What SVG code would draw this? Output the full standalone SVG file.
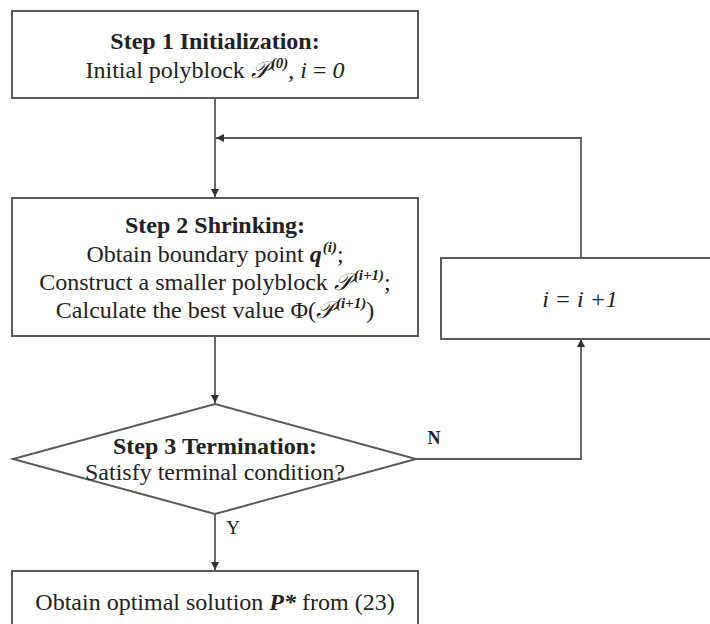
<svg xmlns="http://www.w3.org/2000/svg" width="710" height="624" viewBox="0 0 710 624">
<defs>
<style>
.box{fill:#fff;stroke:#5a5a5a;stroke-width:2}
.ln{fill:none;stroke:#5a5a5a;stroke-width:1.8}
.t{font-family:"Liberation Serif","Times New Roman",serif;font-size:24px;fill:#222;text-anchor:middle}
.b{font-weight:bold}
.i{font-style:italic}
.sup{font-size:15px;font-style:italic;font-weight:bold}
</style>
<marker id="ah" viewBox="0 0 10 10" refX="10" refY="5" markerWidth="8" markerHeight="8" orient="auto" markerUnits="userSpaceOnUse">
<path d="M0,0 L10,5 L0,10 z" fill="#333"/>
</marker>
</defs>
<rect width="710" height="624" fill="#fff"/>
<g id="connectors">
<line class="ln" x1="215" y1="98" x2="215" y2="197" marker-end="url(#ah)"/>
<polyline class="ln" points="581,258 581,138 216,138" marker-end="url(#ah)"/>
<line class="ln" x1="215" y1="336" x2="215" y2="403" marker-end="url(#ah)"/>
<polyline class="ln" points="416,459 581,459 581,339" marker-end="url(#ah)"/>
<line class="ln" x1="215" y1="514" x2="215" y2="570" marker-end="url(#ah)"/>
<text class="t b" x="434" y="444" style="font-size:18px">N</text>
<text class="t" x="233" y="534" style="font-size:19px">Y</text>
</g>
<g id="step1">
<rect class="box" x="12" y="11" width="406" height="87"/>
<text class="t b" x="215" y="49">Step 1 Initialization:</text>
<text class="t" x="215" y="78">Initial polyblock <tspan class="i">𝒫</tspan><tspan class="sup" dx="3" dy="-10">(0)</tspan><tspan dy="10">, </tspan><tspan class="i">i</tspan> = <tspan class="i">0</tspan></text>
</g>
<g id="step2">
<rect class="box" x="12" y="198" width="406" height="138"/>
<text class="t b" x="215" y="233">Step 2 Shrinking:</text>
<text class="t" x="215" y="262">Obtain boundary point <tspan class="b i">q</tspan><tspan class="sup" dx="1" dy="-10">(i)</tspan><tspan dy="10">;</tspan></text>
<text class="t" x="215" y="290">Construct a smaller polyblock <tspan class="i">𝒫</tspan><tspan class="sup" dx="3" dy="-10">(i+1)</tspan><tspan dy="10">;</tspan></text>
<text class="t" x="215" y="318">Calculate the best value Φ(<tspan class="i">𝒫</tspan><tspan class="sup" dx="3" dy="-10">(i+1)</tspan><tspan dy="10">)</tspan></text>
</g>
<g id="incr">
<rect class="box" x="441" y="258" width="275" height="81"/>
<text class="t i" x="580" y="307">i = i +1</text>
</g>
<g id="step3">
<polygon class="box" points="215,404 416,459 215,514 13,459"/>
<text class="t b" x="215" y="454">Step 3 Termination:</text>
<text class="t" x="215" y="480">Satisfy terminal condition?</text>
</g>
<g id="result">
<rect class="box" x="12" y="571" width="406" height="70"/>
<text class="t" x="215" y="610">Obtain optimal solution <tspan class="b i">P*</tspan> from (23)</text>
</g>
</svg>
